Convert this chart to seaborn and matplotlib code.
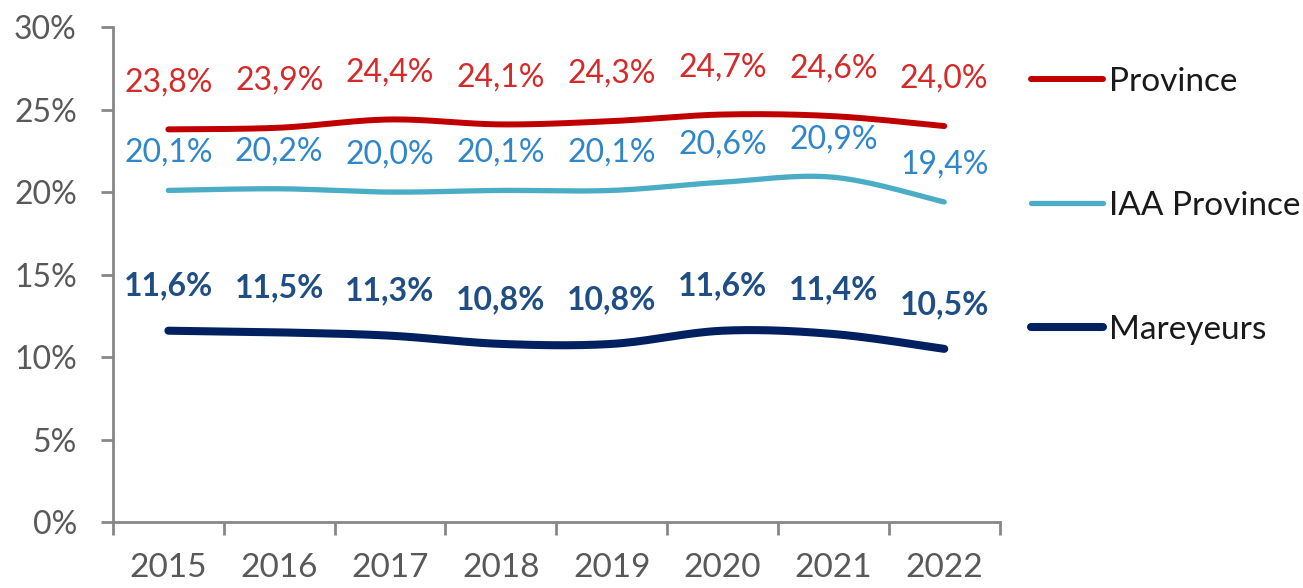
import numpy as np
import pandas as pd
import seaborn as sns
from matplotlib import pyplot as plt
from matplotlib.lines import Line2D
from matplotlib.ticker import FixedLocator, PercentFormatter

# données
annees = ['2015', '2016', '2017', '2018', '2019', '2020', '2021', '2022']
province = [23.8, 23.9, 24.4, 24.1, 24.3, 24.7, 24.6, 24.0]
iaa_province = [20.1, 20.2, 20.0, 20.1, 20.1, 20.6, 20.9, 19.4]
mareyeurs = [11.6, 11.5, 11.3, 10.8, 10.8, 11.6, 11.4, 10.5]


def lissage(y, n=30):
    # courbe lissée façon Excel (bezier type Catmull-Rom)
    y = np.asarray(y, dtype=float)
    x = np.arange(len(y), dtype=float)
    pts = np.column_stack([x, y])
    pts_ext = np.vstack([pts[0], pts, pts[-1]])
    out = []
    t = np.linspace(0, 1, n)[:, None]
    for i in range(len(pts) - 1):
        p0, p1, p2, p3 = pts_ext[i], pts_ext[i + 1], pts_ext[i + 2], pts_ext[i + 3]
        b1 = p1 + (p2 - p0) / 6
        b2 = p2 - (p3 - p1) / 6
        seg = ((1 - t) ** 3) * p1 + 3 * ((1 - t) ** 2) * t * b1 + 3 * (1 - t) * t ** 2 * b2 + t ** 3 * p2
        out.append(seg if i == 0 else seg[1:])
    out = np.vstack(out)
    return out[:, 0], out[:, 1]


sns.set_style('white')
plt.rcParams['font.family'] = ['Lato', 'DejaVu Sans']

fig = plt.figure(figsize=(13.03, 5.88), dpi=100)
ax = fig.add_axes([0.0867, 0.112, 0.6805, 0.842])

series = [
    ('Province', province, '#C00000', '#D42A2A', 4.3, 'normal', 34),
    ('IAA Province', iaa_province, '#4BACC6', '#2F86C9', 3.8, 'normal', 27),
    ('Mareyeurs', mareyeurs, '#002060', '#1F4E85', 5.8, 'bold', 32),
]

handles = []
for nom, vals, couleur, couleur_lab, lw, poids, dy in series:
    xs, ys = lissage(vals)
    sns.lineplot(x=xs, y=ys, sort=False, color=couleur, linewidth=lw, ax=ax,
                 solid_capstyle='round')
    for i, v in enumerate(vals):
        ax.annotate(f'{v:.1f}%'.replace('.', ','), (i, v), xytext=(0, dy),
                    textcoords='offset points', ha='center', va='center',
                    fontsize=23, color=couleur_lab, fontweight=poids)
    handles.append(Line2D([0], [0], color=couleur, linewidth=lw, solid_capstyle='round', label=nom))

ax.set_xlim(-0.5, len(annees) - 0.5)
ax.set_ylim(0, 30)
ax.set_yticks(np.arange(0, 31, 5))
ax.yaxis.set_major_formatter(PercentFormatter(decimals=0))
ax.set_xticks(range(len(annees)))
ax.set_xticklabels(annees)
ax.xaxis.set_minor_locator(FixedLocator(np.arange(-0.5, len(annees), 1)))

for s in ['top', 'right']:
    ax.spines[s].set_visible(False)
for s in ['left', 'bottom']:
    ax.spines[s].set_color('#878787')
    ax.spines[s].set_linewidth(2)

ax.tick_params(axis='y', which='major', length=9, width=2, color='#878787',
               labelsize=23, labelcolor='#595959', pad=17, direction='out', left=True)
ax.tick_params(axis='x', which='major', length=0, labelsize=24, labelcolor='#595959', pad=22)
ax.tick_params(axis='x', which='minor', length=9, width=2, color='#878787', direction='out', bottom=True)

fig.legend(handles=handles, loc='upper left', bbox_to_anchor=(0.768, 0.937),
           frameon=False, fontsize=24, handlelength=2.16, handletextpad=0.2,
           labelspacing=2.82, labelcolor='#1a1a1a')

fig.savefig('out.png', dpi=100)
